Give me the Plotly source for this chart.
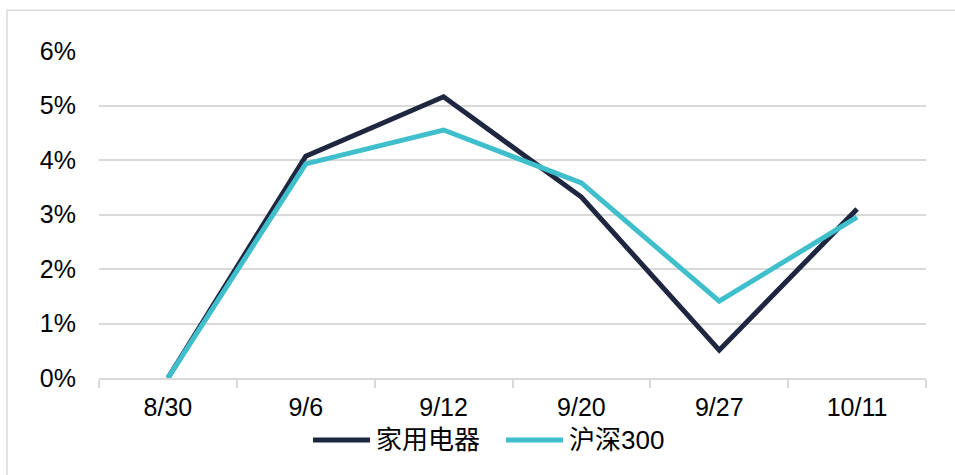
import plotly.graph_objects as go

categories = ["8/30", "9/6", "9/12", "9/20", "9/27", "10/11"]
home_appliance = [0.0, 4.07, 5.16, 3.32, 0.51, 3.10]
csi300 = [0.0, 3.93, 4.55, 3.58, 1.41, 2.95]
y_ticks = [0, 1, 2, 3, 4, 5, 6]
y_tick_labels = ["0%", "1%", "2%", "3%", "4%", "5%", "6%"]
series_names = ["家用电器", "沪深300"]
series_colors = ["#1e2640", "#3fbecb"]

FONT = "Liberation Sans, Arial, Noto Sans CJK SC, sans-serif"

fig = go.Figure()
for name, vals, col in zip(series_names, [home_appliance, csi300], series_colors):
    fig.add_trace(go.Scatter(x=categories, y=vals, mode="lines", name=name,
                             line=dict(color=col, width=5), showlegend=False))

# custom legend (symbol + text), positioned in paper coordinates
legend_x = [(0.2588, 0.3277, 0.3325), (0.4921, 0.5611, 0.5659)]
legend_y = -0.1896
shapes = [dict(type="rect", xref="paper", yref="paper",
               x0=-0.1112, x1=1.1, y0=-0.4, y1=1.125,
               line=dict(color="#d9d9d9", width=1.5), fillcolor="rgba(0,0,0,0)",
               layer="below")]
annotations = []
for (x0, x1, xt), name, col in zip(legend_x, series_names, series_colors):
    shapes.append(dict(type="line", xref="paper", yref="paper", x0=x0, x1=x1,
                       y0=legend_y, y1=legend_y, line=dict(color=col, width=5)))
    annotations.append(dict(xref="paper", yref="paper", x=xt, y=legend_y, text=name,
                            showarrow=False, xanchor="left", yanchor="middle",
                            font=dict(size=26, family="Liberation Sans, Noto Sans CJK SC, sans-serif",
                                      color="#000000")))

fig.update_layout(
    width=955, height=475,
    margin=dict(l=99, r=29, t=51, b=97),
    paper_bgcolor="white", plot_bgcolor="white",
    font=dict(family=FONT, size=25, color="#000000"),
    showlegend=False,
    xaxis=dict(type="category", showline=True, linecolor="#d9d9d9", linewidth=1.5,
               ticks="outside", tickson="boundaries", ticklen=8, tickcolor="#d9d9d9",
               tickwidth=1.5, showgrid=False, ticklabelstandoff=6,
               tickfont=dict(size=25), range=[-0.5, 5.5]),
    yaxis=dict(range=[0, 6], tickvals=y_ticks, ticktext=y_tick_labels,
               showgrid=True, gridcolor="#d9d9d9", gridwidth=1.5,
               zeroline=False, showline=False, ticks="", ticklabelstandoff=22,
               tickfont=dict(size=25)),
    shapes=shapes,
    annotations=annotations,
)

fig.write_html("out.html",
               config={"displayModeBar": False},
               post_script="document.body.style.margin='0';document.body.style.overflow='hidden';")
